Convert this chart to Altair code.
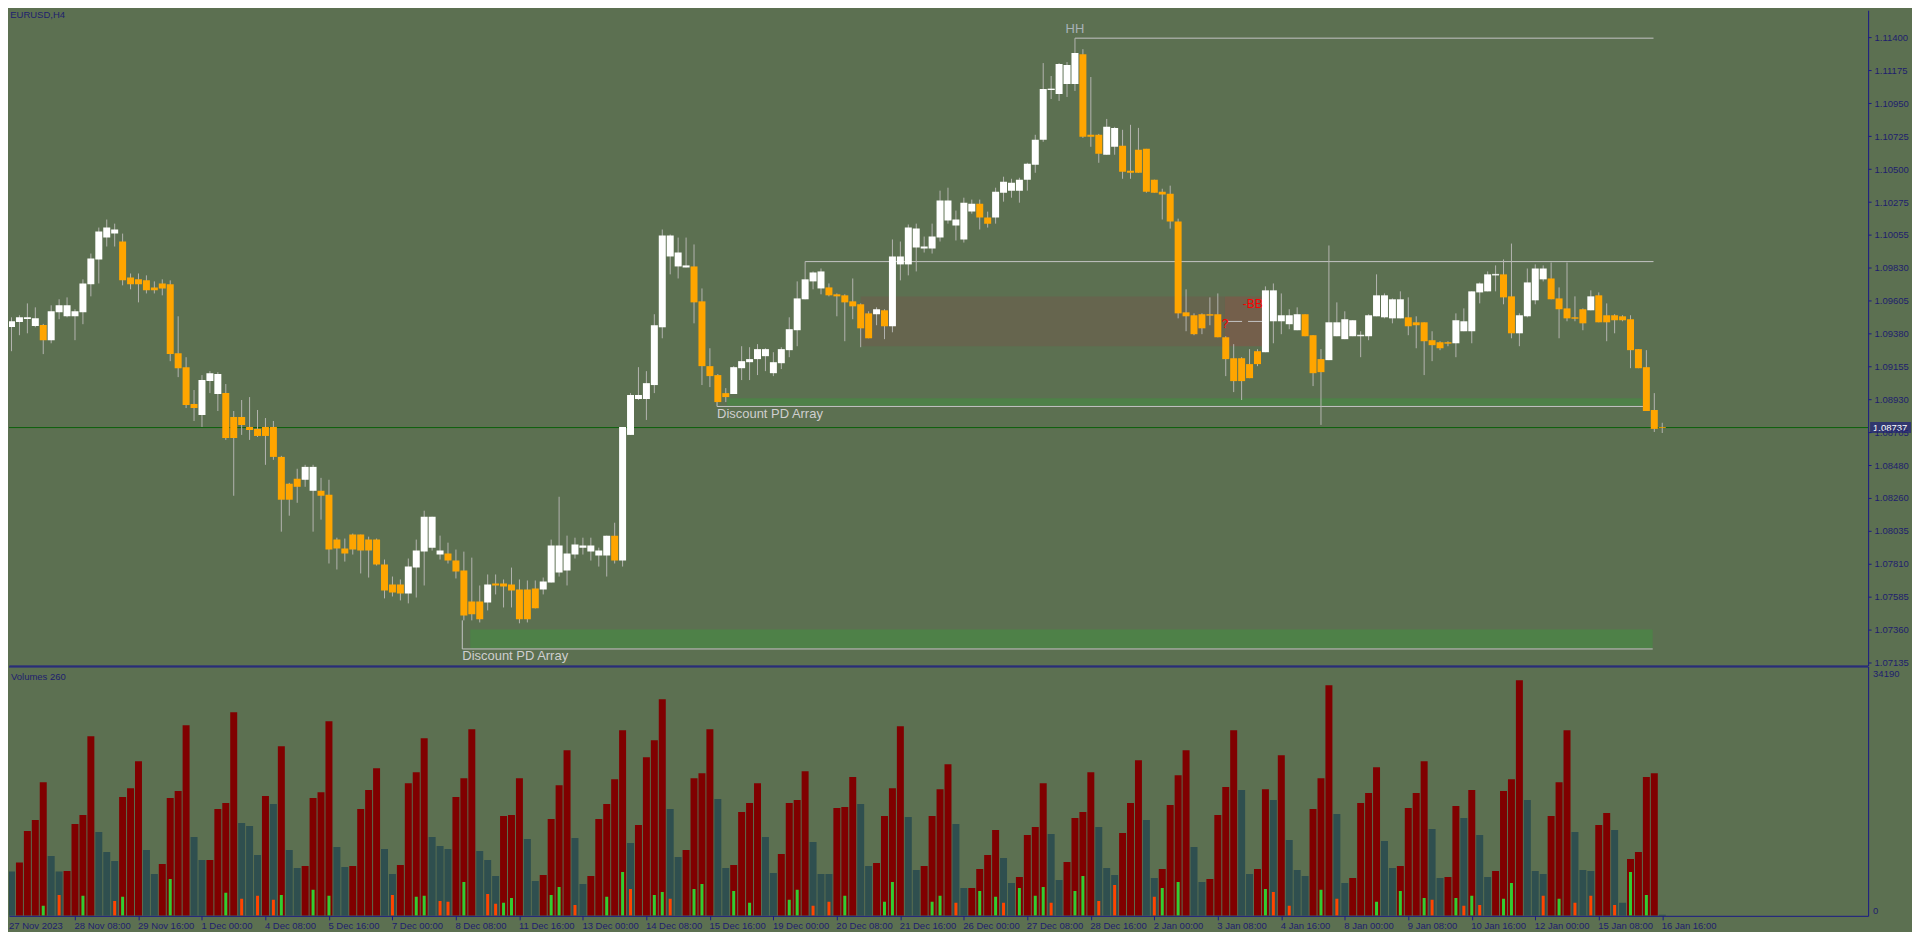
import json
import pandas as pd
import altair as alt

# ---------------- data ----------------
time_labels = ["27 Nov 2023", "28 Nov 08:00", "29 Nov 16:00", "1 Dec 00:00", "4 Dec 08:00",
               "5 Dec 16:00", "7 Dec 00:00", "8 Dec 08:00", "11 Dec 16:00", "13 Dec 00:00",
               "14 Dec 08:00", "15 Dec 16:00", "19 Dec 00:00", "20 Dec 08:00", "21 Dec 16:00",
               "26 Dec 00:00", "27 Dec 08:00", "28 Dec 16:00", "2 Jan 00:00", "3 Jan 08:00",
               "4 Jan 16:00", "8 Jan 00:00", "9 Jan 08:00", "10 Jan 16:00", "12 Jan 00:00",
               "15 Jan 08:00", "16 Jan 16:00"]

price_ticks = [1.11400, 1.11175, 1.10950, 1.10725, 1.10500, 1.10275, 1.10055, 1.09830,
               1.09605, 1.09380, 1.09155, 1.08930, 1.08705, 1.08480, 1.08260, 1.08035,
               1.07810, 1.07585, 1.07360, 1.07135]

opens = [
    1.09423, 1.09457, 1.09478, 1.09430, 1.09437, 1.09333, 1.09523, 1.09496, 1.09496, 1.09523,
    1.09714, 1.09884, 1.10033, 1.10060, 1.10006, 1.09761, 1.09748, 1.09741, 1.09693, 1.09720,
    1.09714, 1.09244, 1.09149, 1.08898, 1.08823, 1.09054, 1.08966, 1.08972, 1.08809, 1.08809,
    1.08741, 1.08728, 1.08741, 1.08741, 1.08537, 1.08354, 1.08388, 1.08381, 1.08306, 1.08306,
    1.08279, 1.07973, 1.07912, 1.08007, 1.08007, 1.07973, 1.07973, 1.07803, 1.07667, 1.07667,
    1.07606, 1.07782, 1.07891, 1.07918, 1.07871, 1.07878, 1.07830, 1.07762, 1.07551, 1.07551,
    1.07544, 1.07674, 1.07674, 1.07667, 1.07633, 1.07633, 1.07640, 1.07633, 1.07680, 1.07748,
    1.07762, 1.07871, 1.07918, 1.07891, 1.07864, 1.07864, 1.08000, 1.07830, 1.08687, 1.08932,
    1.08932, 1.09027, 1.09421, 1.09904, 1.09836, 1.09829, 1.09836, 1.09598, 1.09156, 1.09095,
    1.08972, 1.08966, 1.09142, 1.09183, 1.09204, 1.09224, 1.09108, 1.09176, 1.09265, 1.09401,
    1.09612, 1.09734, 1.09686, 1.09693, 1.09646, 1.09639, 1.09598, 1.09578, 1.09516, 1.09510,
    1.09537, 1.09428, 1.09850, 1.09850, 1.09965, 1.09958, 1.09958, 1.10033, 1.10149, 1.10115,
    1.10020, 1.10210, 1.10264, 1.10169, 1.10169, 1.10339, 1.10353, 1.10353, 1.10428, 1.10530,
    1.10700, 1.11040, 1.11012, 1.11080, 1.11080, 1.11284, 1.10734, 1.10734, 1.10598, 1.10652,
    1.10659, 1.10489, 1.10632, 1.10638, 1.10428, 1.10346, 1.10332, 1.10142, 1.09523, 1.09503,
    1.09510, 1.09510, 1.09510, 1.09353, 1.09210, 1.09210, 1.09170, 1.09258, 1.09251, 1.09462,
    1.09462, 1.09442, 1.09401, 1.09510, 1.09367, 1.09204, 1.09197, 1.09360, 1.09340, 1.09360,
    1.09360, 1.09360, 1.09496, 1.09489, 1.09482, 1.09482, 1.09489, 1.09455, 1.09455, 1.09333,
    1.09319, 1.09319, 1.09312, 1.09394, 1.09394, 1.09659, 1.09666, 1.09775, 1.09782, 1.09632,
    1.09380, 1.09496, 1.09605, 1.09748, 1.09754, 1.09618, 1.09550, 1.09489, 1.09544, 1.09537,
    1.09639, 1.09503, 1.09503, 1.09496, 1.09476, 1.09272, 1.09149, 1.08857, 1.08740]

highs = [
    1.09489, 1.09503, 1.09584, 1.09557, 1.09444, 1.09571, 1.09612, 1.09625, 1.09544, 1.09748,
    1.09924, 1.10101, 1.10156, 1.10128, 1.10060, 1.09788, 1.09788, 1.09775, 1.09734, 1.09748,
    1.09741, 1.09496, 1.09217, 1.08993, 1.09095, 1.09122, 1.09115, 1.09034, 1.08850, 1.08925,
    1.08945, 1.08857, 1.08802, 1.08782, 1.08544, 1.08360, 1.08456, 1.08483, 1.08483, 1.08394,
    1.08381, 1.07986, 1.07980, 1.08014, 1.08007, 1.07993, 1.07980, 1.07837, 1.07721, 1.07701,
    1.07844, 1.07973, 1.08170, 1.08129, 1.08000, 1.07952, 1.07905, 1.07891, 1.07850, 1.07660,
    1.07735, 1.07735, 1.07701, 1.07782, 1.07701, 1.07694, 1.07694, 1.07714, 1.07973, 1.08265,
    1.08000, 1.07986, 1.07986, 1.07986, 1.07918, 1.08000, 1.08088, 1.08741, 1.08972, 1.09149,
    1.09122, 1.09510, 1.10088, 1.10054, 1.10033, 1.10033, 1.09986, 1.09686, 1.09278, 1.09102,
    1.09006, 1.09156, 1.09292, 1.09285, 1.09306, 1.09278, 1.09251, 1.09285, 1.09489, 1.09734,
    1.09870, 1.09802, 1.09822, 1.09720, 1.09652, 1.09646, 1.09754, 1.09584, 1.09530, 1.09557,
    1.09544, 1.10020, 1.10006, 1.10122, 1.10128, 1.10040, 1.10128, 1.10353, 1.10373, 1.10217,
    1.10305, 1.10292, 1.10292, 1.10210, 1.10373, 1.10448, 1.10434, 1.10441, 1.10543, 1.10734,
    1.11223, 1.11135, 1.11223, 1.11230, 1.11393, 1.11318, 1.11128, 1.10740, 1.10842, 1.10788,
    1.10768, 1.10802, 1.10781, 1.10638, 1.10428, 1.10366, 1.10387, 1.10162, 1.09680, 1.09516,
    1.09516, 1.09625, 1.09652, 1.09360, 1.09306, 1.09217, 1.09272, 1.09272, 1.09700, 1.09720,
    1.09652, 1.09544, 1.09557, 1.09510, 1.09367, 1.09272, 1.09979, 1.09591, 1.09530, 1.09469,
    1.09394, 1.09510, 1.09782, 1.09652, 1.09618, 1.09666, 1.09625, 1.09496, 1.09455, 1.09394,
    1.09326, 1.09326, 1.09516, 1.09550, 1.09666, 1.09727, 1.09802, 1.09843, 1.09884, 1.09992,
    1.09516, 1.09822, 1.09850, 1.09843, 1.09863, 1.09693, 1.09863, 1.09632, 1.09550, 1.09673,
    1.09659, 1.09584, 1.09510, 1.09503, 1.09503, 1.09272, 1.09265, 1.08972, 1.08770]

lows = [
    1.09258, 1.09367, 1.09380, 1.09421, 1.09238, 1.09312, 1.09476, 1.09489, 1.09333, 1.09442,
    1.09632, 1.09720, 1.09972, 1.09972, 1.09707, 1.09680, 1.09591, 1.09652, 1.09652, 1.09639,
    1.09190, 1.09081, 1.08870, 1.08782, 1.08741, 1.08972, 1.08850, 1.08653, 1.08272, 1.08687,
    1.08653, 1.08673, 1.08483, 1.08517, 1.08027, 1.08136, 1.08224, 1.08333, 1.08027, 1.08109,
    1.07810, 1.07769, 1.07823, 1.07871, 1.07742, 1.07714, 1.07796, 1.07572, 1.07585, 1.07558,
    1.07538, 1.07578, 1.07660, 1.07898, 1.07837, 1.07810, 1.07708, 1.07422, 1.07422, 1.07408,
    1.07490, 1.07599, 1.07510, 1.07510, 1.07402, 1.07408, 1.07504, 1.07599, 1.07680, 1.07721,
    1.07660, 1.07844, 1.07871, 1.07830, 1.07789, 1.07721, 1.07810, 1.07789, 1.08687, 1.08925,
    1.08789, 1.08972, 1.09346, 1.09782, 1.09754, 1.09829, 1.09448, 1.09027, 1.09013, 1.08911,
    1.08911, 1.08966, 1.09061, 1.09061, 1.09095, 1.09122, 1.09088, 1.09136, 1.09217, 1.09292,
    1.09612, 1.09680, 1.09646, 1.09632, 1.09496, 1.09326, 1.09476, 1.09285, 1.09346, 1.09435,
    1.09340, 1.09387, 1.09741, 1.09775, 1.09802, 1.09931, 1.09924, 1.10006, 1.10128, 1.10013,
    1.09999, 1.10196, 1.10088, 1.10101, 1.10128, 1.10278, 1.10305, 1.10271, 1.10353, 1.10475,
    1.10686, 1.10978, 1.10965, 1.10992, 1.11033, 1.10713, 1.10652, 1.10543, 1.10598, 1.10598,
    1.10434, 1.10434, 1.10475, 1.10339, 1.10339, 1.10156, 1.10094, 1.09482, 1.09394, 1.09367,
    1.09374, 1.09435, 1.09353, 1.09088, 1.08979, 1.08925, 1.09074, 1.09156, 1.09251, 1.09312,
    1.09374, 1.09408, 1.09401, 1.09360, 1.09020, 1.08755, 1.09197, 1.09360, 1.09340, 1.09360,
    1.09217, 1.09333, 1.09496, 1.09482, 1.09448, 1.09482, 1.09367, 1.09278, 1.09095, 1.09190,
    1.09265, 1.09292, 1.09217, 1.09394, 1.09312, 1.09584, 1.09666, 1.09666, 1.09578, 1.09346,
    1.09292, 1.09489, 1.09578, 1.09734, 1.09612, 1.09346, 1.09462, 1.09462, 1.09401, 1.09537,
    1.09455, 1.09326, 1.09380, 1.09462, 1.09142, 1.09142, 1.08850, 1.08707, 1.08700]

closes = [
    1.09462, 1.09489, 1.09489, 1.09482, 1.09333, 1.09530, 1.09571, 1.09571, 1.09530, 1.09720,
    1.09890, 1.10074, 1.10101, 1.10088, 1.09741, 1.09714, 1.09714, 1.09673, 1.09673, 1.09686,
    1.09238, 1.09142, 1.08891, 1.08870, 1.09061, 1.09108, 1.09102, 1.08666, 1.08666, 1.08755,
    1.08721, 1.08680, 1.08680, 1.08537, 1.08245, 1.08245, 1.08333, 1.08469, 1.08469, 1.08272,
    1.07905, 1.07912, 1.07878, 1.07905, 1.07898, 1.07898, 1.07803, 1.07626, 1.07612, 1.07606,
    1.07789, 1.07898, 1.08129, 1.08129, 1.07898, 1.07830, 1.07755, 1.07456, 1.07463, 1.07429,
    1.07667, 1.07660, 1.07653, 1.07626, 1.07429, 1.07429, 1.07504, 1.07687, 1.07932, 1.07932,
    1.07878, 1.07939, 1.07932, 1.07932, 1.07898, 1.08000, 1.07830, 1.08741, 1.08959, 1.08959,
    1.09040, 1.09435, 1.10047, 1.10047, 1.09931, 1.09843, 1.09591, 1.09156, 1.09088, 1.08911,
    1.08945, 1.09149, 1.09190, 1.09204, 1.09272, 1.09272, 1.09183, 1.09272, 1.09408, 1.09618,
    1.09748, 1.09795, 1.09802, 1.09639, 1.09632, 1.09591, 1.09564, 1.09414, 1.09346, 1.09544,
    1.09428, 1.09904, 1.09904, 1.10101, 1.10094, 1.09972, 1.10040, 1.10285, 1.10285, 1.10156,
    1.10271, 1.10264, 1.10169, 1.10128, 1.10346, 1.10414, 1.10407, 1.10428, 1.10536, 1.10700,
    1.11046, 1.11046, 1.11216, 1.11210, 1.11291, 1.10720, 1.10720, 1.10604, 1.10788, 1.10781,
    1.10482, 1.10475, 1.10475, 1.10346, 1.10339, 1.10326, 1.10142, 1.09516, 1.09496, 1.09374,
    1.09414, 1.09503, 1.09353, 1.09204, 1.09054, 1.09054, 1.09074, 1.09170, 1.09673, 1.09673,
    1.09503, 1.09503, 1.09510, 1.09360, 1.09108, 1.09115, 1.09455, 1.09455, 1.09476, 1.09469,
    1.09367, 1.09503, 1.09639, 1.09639, 1.09612, 1.09612, 1.09428, 1.09435, 1.09326, 1.09299,
    1.09278, 1.09312, 1.09469, 1.09462, 1.09666, 1.09720, 1.09782, 1.09782, 1.09625, 1.09380,
    1.09503, 1.09727, 1.09822, 1.09822, 1.09612, 1.09544, 1.09482, 1.09482, 1.09448, 1.09632,
    1.09455, 1.09455, 1.09469, 1.09469, 1.09265, 1.09142, 1.08850, 1.08728, 1.08737]

volumes = [
    6070, 7300, 11630, 13130, 18330, 8210, 6070, 6160, 12590, 13820,
    24620, 11490, 8760, 7520, 16280, 17510, 21200, 9030, 5750, 7110,
    16140, 17100, 26130, 10810, 7660, 7660, 14640, 15460, 27910, 12720,
    12310, 8350, 16420, 15320, 23260, 9030, 6570, 6840, 16140, 16960,
    26680, 9440, 6700, 6840, 14640, 17240, 20250, 9170, 5750, 6980,
    18190, 19700, 24350, 10810, 9580, 9170, 16280, 18880, 25580, 8890,
    7660, 5470, 13680, 13820, 18880, 10530, 4790, 5610, 13270, 17920,
    22710, 10670, 4380, 5470, 13270, 15320, 18740, 25450, 9990, 12450,
    21750, 24080, 29690, 14640, 8070, 9030, 18880, 19560, 25580, 16010,
    6570, 6980, 14230, 15460, 18190, 10810, 5880, 8480, 15460, 15870,
    19840, 10120, 5750, 5750, 14770, 14910, 19020, 15320, 6840, 7250,
    13680, 17510, 25990, 13540, 6290, 6840, 13680, 17370, 20790, 12590,
    3830, 3830, 6430, 8350, 11770, 7930, 4510, 5340, 11080, 12180,
    18190, 11220, 4930, 7390, 13410, 14230, 19700, 12180, 6570, 5610,
    11350, 15460, 21340, 13130, 5200, 6430, 15190, 19290, 22710, 9440,
    4650, 5060, 13820, 17650, 25450, 17240, 5750, 6430, 17370, 15870,
    22030, 10400, 6290, 5470, 14640, 18880, 31600, 13950, 4510, 5200,
    15460, 16830, 20380, 10260, 6570, 6840, 14770, 16830, 21200, 11900,
    5200, 5340, 15050, 13410, 17240, 11080, 5340, 6160, 17100, 18740,
    32290, 15870, 6160, 5750, 13680, 18330, 25450, 11490, 6290, 6160,
    12450, 14090, 11770, 1780, 7800, 8760, 19020, 19560, 140]

# R = high-volume bar, S = normal bar
vol_kind = ("S RRRR SS RRRR SSS RRR SS RRRR SS RRRR SSS R S R SS RRRR SS RRRR SS RRRR "
            "SSS RRR SSS RRR SS RRRR SS RRRRR S RRRR SS RRRR SS RRRR SS RRRR SSS RRR SS "
            "RRRR SS RRRR SS RRRR SS RRRR SS RRRR SSS RRR SS RRRR SS RRRR SS RR S R SSS "
            "RRR SS RRRR SS RRRR SS RR S R SS RRRR SSS RRR SSS RR SS RRRR S").replace(" ", "")

lime_idx = [4, 9, 14, 20, 27, 34, 38, 40, 51, 52, 57, 62, 63, 68, 69, 75, 77, 81, 82, 86,
            87, 91, 93, 98, 99, 105, 110, 111, 116, 117, 122, 124, 127, 129, 130, 134, 135,
            145, 147, 158, 165, 172, 175, 178, 182, 184, 188, 189, 195, 204, 206]
lime_vol = [1370, 2740, 2600, 5060, 3150, 2870, 3560, 2740, 2600, 2740, 4650, 1780, 2460,
            2870, 3970, 2600, 6020, 2870, 3280, 3690, 4380, 3420, 1780, 2190, 3560, 2740,
            1920, 4650, 1920, 2740, 3420, 2600, 3830, 2740, 3970, 3420, 5470, 3830, 4650,
            3690, 3560, 1920, 3420, 2460, 2460, 2740, 2330, 4510, 2330, 6020, 2870]
orange_idx = [6, 13, 29, 31, 33, 48, 54, 55, 60, 61, 71, 78, 83, 101, 103, 119, 125, 131,
              137, 139, 144, 159, 161, 167, 179, 183, 185, 193, 197, 199, 202]
orange_vol = [2870, 2050, 2330, 2740, 2190, 2870, 2050, 1920, 3010, 1640, 1500, 3690, 2330,
              1370, 1920, 1780, 1780, 1780, 2050, 4240, 2600, 3280, 1370, 2330, 2190, 1370,
              1500, 2740, 1780, 2740, 1500]

current_price = 1.08737
vol_max = 34190

# chart objects (bar-index / price coordinates)
levels = pd.DataFrame({"x1": [134.0, 100.0, 88.9, 56.8],
                       "x2": [206.9, 206.9, 205.9, 206.8],
                       "p": [1.11393, 1.09869, 1.08881, 1.07227]})
level_stems = pd.DataFrame({"x": [56.8, 88.9], "p1": [1.07227, 1.08881], "p2": [1.07422, 1.08917]})
zones = pd.DataFrame({"x1": [107.0, 152.9, 90.15, 57.8],
                      "x2": [152.9, 157.8, 205.5, 206.8],
                      "p1": [1.09631, 1.09631, 1.08937, 1.07359],
                      "p2": [1.09291, 1.09291, 1.08886, 1.07232],
                      "kind": ["zone", "trigger", "band", "band"]})
dashed = pd.DataFrame({"x1": [153.3], "x2": [157.8], "p": [1.09461]})
hh_text = pd.DataFrame({"x": [134.0], "p": [1.11454], "t": ["HH"]})
pd_text = pd.DataFrame({"x": [88.9, 56.8], "p": [1.08829, 1.07176],
                        "t": ["Discount PD Array", "Discount PD Array"]})
red_text = pd.DataFrame({"x": [156.4, 152.9], "p": [1.09577, 1.09441], "t": ["-BB", "?"]})

# ---------------- frames ----------------
n = len(closes)
candles = pd.DataFrame({"i": list(range(n)), "o": opens, "h": highs, "l": lows, "c": closes})
candles["dir"] = ["up" if c >= o else "down" for o, c in zip(opens, closes)]
vol = pd.DataFrame({"i": list(range(n)), "v": volumes, "kind": list(vol_kind)[:n]})
flags = pd.concat([pd.DataFrame({"i": lime_idx, "v": lime_vol, "kind": "lime"}),
                   pd.DataFrame({"i": orange_idx, "v": orange_vol, "kind": "orange"})])
cur = pd.DataFrame({"p": [current_price]})

# ---------------- style ----------------
BG = "#5C7051"
NAVY = "#1A1A86"
NAVY_TXT = "#1E1E6E"
FONT = "Liberation Sans"
W, H_PRICE, H_VOL = 1864, 657, 250

xscale = alt.Scale(domain=[0.3125, 233.3125], nice=False, zero=False)
yscale = alt.Scale(domain=[1.071143, 1.115837], nice=False, zero=False)
vscale = alt.Scale(domain=[0, vol_max], nice=False, zero=False)
cscale = alt.Scale(domain=["up", "down", "R", "S", "lime", "orange", "zone", "trigger", "band"],
                   range=["#FFFFFF", "#FFA500", "#800000", "#2F4F4F", "#32CD32", "#FF4500",
                          "#66654E", "#745F4B", "#4E8148"])

price_xaxis = alt.Axis(labels=False, ticks=False, grid=False, title=None, domainColor=NAVY,
                       zindex=1)
price_yaxis = alt.Axis(orient="right", values=price_ticks, format=".5f", tickSize=3,
                       tickColor=NAVY, domainColor=NAVY, labelColor=NAVY_TXT, labelFontSize=9.5,
                       labelFont=FONT, labelPadding=3, labelFlush=False, labelOverlap=False,
                       grid=False, title=None, zindex=1)
label_expr = json.dumps(time_labels[1:]) + "[round(datum.value / 8) - 1]"
vol_xaxis = alt.Axis(values=list(range(8, n, 8)), labelExpr=label_expr, tickSize=4,
                     tickColor=NAVY, domainColor=NAVY, labelColor=NAVY_TXT, labelFontSize=9.5,
                     labelFont=FONT, labelAlign="left", labelPadding=1, labelOffset=-1,
                     labelFlush=False, labelOverlap=False, grid=False, title=None, zindex=1)
vol_yaxis = alt.Axis(orient="right", labels=False, ticks=False, grid=False, title=None,
                     domainColor=NAVY, zindex=1)


def PX(f):
    return alt.X(f"{f}:Q", scale=xscale, axis=price_xaxis)


def PY(f):
    return alt.Y(f"{f}:Q", scale=yscale, axis=price_yaxis)


def VX(f):
    return alt.X(f"{f}:Q", scale=xscale, axis=vol_xaxis)


def VY(f):
    return alt.Y(f"{f}:Q", scale=vscale, axis=vol_yaxis)


col = alt.Color("kind:N", scale=cscale, legend=None)
dcol = alt.Color("dir:N", scale=cscale, legend=None)

zones_l = alt.Chart(zones).mark_rect(clip=True).encode(
    x=PX("x1"), x2="x2:Q", y=PY("p1"), y2="p2:Q", color=col)
cur_l = alt.Chart(cur).mark_rule(color="#0B600B", strokeWidth=1).encode(y=PY("p"))
levels_l = alt.Chart(levels).mark_rule(color="#C4C4C4", strokeWidth=1, clip=True).encode(
    x=PX("x1"), x2="x2:Q", y=PY("p"))
stems_l = alt.Chart(level_stems).mark_rule(color="#C4C4C4", strokeWidth=1, clip=True).encode(
    x=PX("x"), y=PY("p1"), y2="p2:Q")
dash_l = alt.Chart(dashed).mark_rule(color="#C4C4C4", strokeWidth=1, strokeDash=[14, 6],
                                     clip=True).encode(x=PX("x1"), x2="x2:Q", y=PY("p"))
wick_l = alt.Chart(candles).mark_rule(color="#B4B4B0", strokeWidth=1, clip=True).encode(
    x=PX("i"), y=PY("h"), y2="l:Q")
body_l = alt.Chart(candles).mark_bar(size=7, clip=True).encode(
    x=PX("i"), y=PY("o"), y2="c:Q", color=dcol)
doji_l = alt.Chart(candles).transform_filter("abs(datum.c - datum.o) < 0.00008").mark_tick(
    orient="horizontal", size=7, thickness=1, clip=True).encode(x=PX("i"), y=PY("c"), color=dcol)
hh_l = alt.Chart(hh_text).mark_text(font=FONT, fontSize=13, color="#A8B2B8", align="center",
                                    baseline="middle").encode(x=PX("x"), y=PY("p"), text="t:N")
pd_l = alt.Chart(pd_text).mark_text(font=FONT, fontSize=13, color="#CFCFCF", align="left",
                                    baseline="middle").encode(x=PX("x"), y=PY("p"), text="t:N")
red_l = alt.Chart(red_text).mark_text(font=FONT, fontSize=12, color="#FF0000", align="center",
                                      baseline="middle").encode(x=PX("x"), y=PY("p"), text="t:N")
box_l = alt.Chart(cur).mark_tick(orient="horizontal", size=41, thickness=11, color="#1F1F7A").encode(
    x=alt.value(1886.5), y=PY("p"))
boxtxt_l = alt.Chart(cur).mark_text(font=FONT, fontSize=9.5, color="#FFFFFF", align="left",
                                    baseline="middle").encode(
    x=alt.value(1869), y=PY("p"), text=alt.Text("p:Q", format=".5f"))
sym_l = alt.Chart(pd.DataFrame({"t": ["EURUSD,H4"]})).mark_text(
    font=FONT, fontSize=9.5, color=NAVY_TXT, align="left", baseline="middle").encode(
    x=alt.value(1.3), y=alt.value(4.7), text="t:N")

price = alt.layer(zones_l, cur_l, levels_l, stems_l, dash_l, wick_l, body_l, doji_l,
                  hh_l, pd_l, red_l, box_l, boxtxt_l, sym_l).properties(width=W, height=H_PRICE)

# ---------------- volume panel ----------------
vbar_l = alt.Chart(vol).mark_bar(size=7, clip=True).encode(x=VX("i"), y=VY("v"), color=col)
flag_l = alt.Chart(flags).mark_bar(size=3, clip=True).encode(x=VX("i"), y=VY("v"), color=col)
top_l = alt.Chart(pd.DataFrame({"a": [0]})).mark_rule(color=NAVY, strokeWidth=1).encode(
    x=alt.value(0), x2=alt.value(W), y=alt.value(0.5))
vmax_l = alt.Chart(pd.DataFrame({"v": [vol_max]})).mark_text(
    font=FONT, fontSize=9.5, color=NAVY_TXT, align="left", baseline="top", dy=3).encode(
    x=alt.value(1869), y=VY("v"), text="v:Q")
vzero_l = alt.Chart(pd.DataFrame({"v": [0]})).mark_text(
    font=FONT, fontSize=9.5, color=NAVY_TXT, align="left", baseline="bottom").encode(
    x=alt.value(1869), y=VY("v"), text="v:Q")
vtitle_l = alt.Chart(pd.DataFrame({"t": ["Volumes 260"]})).mark_text(
    font=FONT, fontSize=9.5, color=NAVY_TXT, align="left", baseline="middle").encode(
    x=alt.value(2), y=alt.value(10.7), text="t:N")
first_l = alt.Chart(pd.DataFrame({"t": [time_labels[0]]})).mark_text(
    font=FONT, fontSize=9.5, color=NAVY_TXT, align="left", baseline="top").encode(
    x=alt.value(0), y=alt.value(H_VOL + 5), text="t:N")

volume = alt.layer(vbar_l, flag_l, top_l, vmax_l, vzero_l, vtitle_l, first_l).properties(
    width=W, height=H_VOL)

chart = alt.vconcat(price, volume, spacing=1, bounds="flush").properties(
    padding=0, background=BG).configure(font=FONT).configure_view(
    stroke="transparent").configure_axis(labelFont=FONT, domainWidth=1, tickWidth=1)

chart.save("out.html", embed_options={"renderer": "svg", "actions": False})
